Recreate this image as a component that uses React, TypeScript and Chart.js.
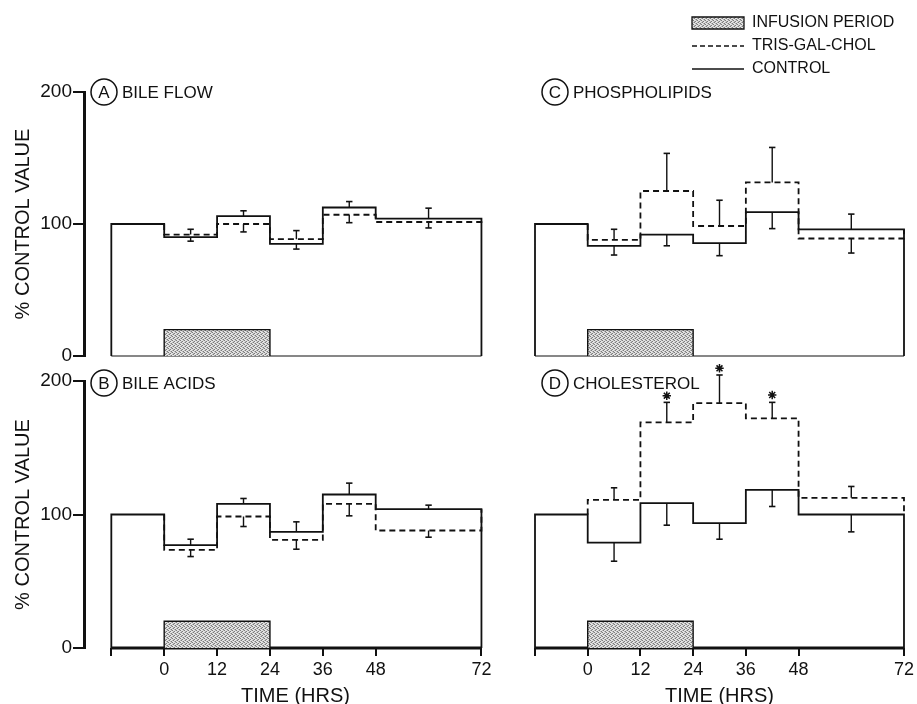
import React, { useEffect, useRef } from 'react';
import { Chart, registerables } from 'chart.js';

Chart.register(...registerables);

// ---------------- data ----------------
const PRE_START = -12;
const PERIOD_START = [0, 12, 24, 36, 48];
const PERIOD_END = [12, 24, 36, 48, 72];
const PERIOD_MID = [6, 18, 30, 42, 60];
const BASELINE_VALUE = 100;
const X_TICKS = [-12, 0, 12, 24, 36, 48, 72];
const Y_TICKS = [0, 100, 200];
const INFUSION_START = 0;
const INFUSION_END = 24;
const INFUSION_LEVEL = 20;

// A  bile flow
const A_CONTROL = [90, 106, 85, 112.5, 104];
const A_TREATED = [92, 100, 88.5, 107, 101.5];
const A_CONTROL_TIP = [87, 110, 81, 117, 112];
const A_TREATED_TIP = [96, 94, 95, 101, 97];

// B  bile acids
const B_CONTROL = [77, 108, 87, 115, 104];
const B_TREATED = [73.5, 98.5, 81, 108, 88];
const B_CONTROL_TIP = [81.5, 112, 94.5, 123.5, 107];
const B_TREATED_TIP = [68.5, 91, 74, 99, 83];

// C  phospholipids
const C_CONTROL = [83.5, 92, 85.5, 109, 96];
const C_TREATED = [88, 125, 98.5, 131.5, 89];
const C_CONTROL_TIP = [76.5, 83.5, 76, 96.5, 107.5];
const C_TREATED_TIP = [96, 153.5, 118, 158, 78];

// D  cholesterol
const D_CONTROL = [79, 108.5, 93.5, 118.5, 100];
const D_TREATED = [111, 169, 183.5, 172, 112.5];
const D_CONTROL_TIP = [65, 92, 81.5, 106, 87];
const D_TREATED_TIP = [120, 184, 204.5, 184, 121];
const D_SIG_X = [18, 30, 42];
const D_SIG_Y = [189, 209.5, 189.5];

const LEGEND_LABELS = ['INFUSION PERIOD', 'TRIS-GAL-CHOL', 'CONTROL'];

// ---------------- styling ----------------
const INK = '#111111';
const FONT = '"Liberation Sans", Arial, sans-serif';
Chart.defaults.font.family = FONT;
Chart.defaults.color = INK;

type Panel = {
  letter: string;
  name: string;
  ctrl: number[];
  trt: number[];
  ctrlTip: number[];
  trtTip: number[];
  sigX?: number[];
  sigY?: number[];
  col: number;
  row: number;
};

const PANELS: Panel[] = [
  { letter: 'A', name: 'BILE FLOW', ctrl: A_CONTROL, trt: A_TREATED, ctrlTip: A_CONTROL_TIP, trtTip: A_TREATED_TIP, col: 0, row: 0 },
  { letter: 'B', name: 'BILE ACIDS', ctrl: B_CONTROL, trt: B_TREATED, ctrlTip: B_CONTROL_TIP, trtTip: B_TREATED_TIP, col: 0, row: 1 },
  { letter: 'C', name: 'PHOSPHOLIPIDS', ctrl: C_CONTROL, trt: C_TREATED, ctrlTip: C_CONTROL_TIP, trtTip: C_TREATED_TIP, col: 1, row: 0 },
  { letter: 'D', name: 'CHOLESTEROL', ctrl: D_CONTROL, trt: D_TREATED, ctrlTip: D_CONTROL_TIP, trtTip: D_TREATED_TIP, sigX: D_SIG_X, sigY: D_SIG_Y, col: 1, row: 1 },
];

// canvas geometry (px): [col][row]
const GEOM: any[][] = [
  [
    { left: 0, top: 0, width: 520, height: 370, padL: 11, padR: 13, padT: 92, padB: 14, yAxisW: 73, xAxisH: 0, xMin: -18.2, xMax: 77.8, yMax: 200 },
    { left: 0, top: 350, width: 520, height: 356, padL: 11, padR: 13, padT: 31, padB: 0, yAxisW: 73, xAxisH: 58, xMin: -18.2, xMax: 77.8, yMax: 200 },
  ],
  [
    { left: 490, top: 0, width: 427, height: 370, padL: 45, padR: 13, padT: 52.4, padB: 14, yAxisW: 0, xAxisH: 0, xMin: -12, xMax: 72, yMax: 230 },
    { left: 490, top: 300, width: 427, height: 406, padL: 45, padR: 13, padT: 40.95, padB: 0, yAxisW: 0, xAxisH: 58, xMin: -12, xMax: 72, yMax: 230 },
  ],
];
const LEGEND_GEOM = { left: 685, top: 8, width: 232, height: 200 };

const X_END = PERIOD_END[PERIOD_END.length - 1];

function stepPath(values: number[]) {
  const pts: { x: number; y: number }[] = [];
  values.forEach((v, i) => {
    pts.push({ x: PERIOD_START[i], y: v }, { x: PERIOD_END[i], y: v });
  });
  return pts;
}

function controlPath(values: number[]) {
  return [
    { x: PRE_START, y: 0 },
    { x: PRE_START, y: BASELINE_VALUE },
    { x: PERIOD_START[0], y: BASELINE_VALUE },
    ...stepPath(values),
    { x: X_END, y: 0 },
  ];
}

function treatedPath(values: number[], ctrl: number[]) {
  return [
    { x: PERIOD_START[0], y: BASELINE_VALUE },
    ...stepPath(values),
    { x: X_END, y: ctrl[ctrl.length - 1] },
  ];
}

function barPath(means: number[], tips: number[]) {
  const pts: { x: number; y: number | null }[] = [];
  means.forEach((m, i) => {
    pts.push({ x: PERIOD_MID[i], y: m }, { x: PERIOD_MID[i], y: tips[i] }, { x: PERIOD_MID[i], y: null });
  });
  return pts;
}

function makePattern(): CanvasPattern | string {
  const c = document.createElement('canvas');
  c.width = 4;
  c.height = 4;
  const g = c.getContext('2d');
  if (!g) return '#bbb';
  g.fillStyle = '#e4e4e4';
  g.fillRect(0, 0, 4, 4);
  g.fillStyle = '#7c7c7c';
  [[0, 0], [2, 1], [1, 2], [3, 3]].forEach(([x, y]) => g.fillRect(x, y, 1, 1));
  g.fillStyle = '#b4b4b4';
  [[2, 3], [0, 2], [3, 0], [1, 1]].forEach(([x, y]) => g.fillRect(x, y, 1, 1));
  const p = g.createPattern(c, 'repeat');
  return p || '#bbb';
}

const panelLabelPlugin = {
  id: 'panelLabel',
  afterDatasetsDraw(chart: any, _args: any, opts: any) {
    if (!opts || !opts.letter) return;
    const { ctx, chartArea } = chart;
    const y = chart.scales.y.getPixelForValue(200) + (opts.dy || 0);
    const cx = chartArea.left + 20;
    ctx.save();
    ctx.strokeStyle = INK;
    ctx.lineWidth = 1.5;
    ctx.beginPath();
    ctx.arc(cx, y, 13, 0, Math.PI * 2);
    ctx.stroke();
    ctx.fillStyle = INK;
    ctx.font = `17px ${FONT}`;
    ctx.textBaseline = 'middle';
    ctx.textAlign = 'center';
    ctx.fillText(opts.letter, cx, y + 1);
    ctx.textAlign = 'left';
    ctx.fillText(opts.text, chartArea.left + 38, y + 1);
    ctx.restore();
  },
};

function panelConfig(p: Panel, pattern: any): any {
  const g = GEOM[p.col][p.row];
  const isLeft = p.col === 0;
  const isBottom = p.row === 1;
  const tipRadius = (ctx: any) => (ctx.dataIndex % 3 === 1 ? 3.2 : 0);
  const datasets: any[] = [
    {
      label: LEGEND_LABELS[0],
      data: [
        { x: INFUSION_START, y: 0 },
        { x: INFUSION_START, y: INFUSION_LEVEL },
        { x: INFUSION_END, y: INFUSION_LEVEL },
        { x: INFUSION_END, y: 0 },
      ],
      fill: 'origin',
      backgroundColor: pattern,
      borderColor: INK,
      borderWidth: 1.4,
      clip: false,
    },
    {
      label: 'baseline',
      data: [{ x: PRE_START, y: 0 }, { x: X_END, y: 0 }],
      borderColor: INK,
      borderWidth: isBottom ? 3 : 1.2,
      clip: false,
    },
    {
      label: LEGEND_LABELS[2],
      data: controlPath(p.ctrl),
      borderColor: INK,
      borderWidth: 1.8,
      clip: false,
    },
    {
      label: LEGEND_LABELS[1],
      data: treatedPath(p.trt, p.ctrl),
      borderColor: INK,
      borderWidth: 1.8,
      borderDash: [6, 4],
      clip: false,
    },
    {
      label: 'control SEM',
      data: barPath(p.ctrl, p.ctrlTip),
      borderColor: INK,
      borderWidth: 1.4,
      spanGaps: false,
      pointStyle: 'line',
      pointRadius: tipRadius,
      pointBorderWidth: 1.6,
      pointBorderColor: INK,
      clip: false,
    },
    {
      label: 'treated SEM',
      data: barPath(p.trt, p.trtTip),
      borderColor: INK,
      borderWidth: 1.4,
      spanGaps: false,
      pointStyle: 'line',
      pointRadius: tipRadius,
      pointBorderWidth: 1.6,
      pointBorderColor: INK,
      clip: false,
    },
  ];
  if (p.sigX && p.sigY) {
    datasets.push({
      label: 'significant',
      data: p.sigX.map((x, i) => ({ x, y: p.sigY![i] })),
      showLine: false,
      pointStyle: 'star',
      pointRadius: 4.2,
      pointBorderWidth: 1.5,
      pointBorderColor: INK,
      clip: false,
    });
  }
  return {
    type: 'line',
    data: { datasets },
    plugins: [panelLabelPlugin],
    options: {
      responsive: false,
      animation: false,
      events: [],
      layout: { padding: { left: g.padL, right: g.padR, top: g.padT, bottom: g.padB } },
      elements: {
        line: { tension: 0, fill: false },
        point: { radius: 0, hoverRadius: 0 },
      },
      plugins: {
        legend: { display: false },
        tooltip: { enabled: false },
        panelLabel: { letter: p.letter, text: p.name, dy: isBottom ? 2 : 0 },
      },
      scales: {
        x: {
          type: 'linear',
          min: g.xMin,
          max: g.xMax,
          display: isBottom,
          afterBuildTicks: (axis: any) => {
            axis.ticks = X_TICKS.map((v) => ({ value: v }));
          },
          afterFit: (axis: any) => {
            axis.height = g.xAxisH;
          },
          grid: { drawOnChartArea: false, drawTicks: true, tickLength: 8, color: INK, lineWidth: 2 },
          border: { display: false },
          ticks: {
            callback: (v: any) => (v === PRE_START ? '' : String(v)),
            font: { size: 18 },
            color: INK,
            padding: 3,
            maxRotation: 0,
            autoSkip: false,
          },
          title: { display: true, text: 'TIME (HRS)', font: { size: 20, lineHeight: 1 }, color: INK, padding: 0 },
        },
        y: {
          type: 'linear',
          min: 0,
          max: g.yMax,
          display: isLeft,
          afterBuildTicks: (axis: any) => {
            axis.ticks = Y_TICKS.map((v) => ({ value: v }));
          },
          afterFit: (axis: any) => {
            axis.width = g.yAxisW;
          },
          grid: { drawOnChartArea: false, drawTicks: true, tickLength: 11, color: INK, lineWidth: 2 },
          border: { display: true, color: INK, width: 3 },
          ticks: { font: { size: 19 }, color: INK, padding: 1 },
          title: { display: true, text: '% CONTROL VALUE', font: { size: 20, lineHeight: 1.2 }, color: INK, padding: 0 },
        },
      },
    },
  };
}

function legendConfig(pattern: any): any {
  const datasets = [
    { label: LEGEND_LABELS[0], data: [], backgroundColor: pattern, borderColor: INK, borderWidth: 1.3, pointStyle: 'rect' },
    { label: LEGEND_LABELS[1], data: [], backgroundColor: 'rgba(0,0,0,0)', borderColor: INK, borderWidth: 1.5, borderDash: [5, 3], pointStyle: 'line' },
    { label: LEGEND_LABELS[2], data: [], backgroundColor: 'rgba(0,0,0,0)', borderColor: INK, borderWidth: 1.5, pointStyle: 'line' },
  ];
  return {
    type: 'line',
    data: { datasets },
    options: {
      responsive: false,
      animation: false,
      events: [],
      layout: { padding: 0 },
      scales: { x: { type: 'linear', display: false, min: 0, max: 1 }, y: { display: false, min: 0, max: 1 } },
      plugins: {
        tooltip: { enabled: false },
        legend: {
          display: true,
          position: 'top',
          align: 'start',
          labels: {
            usePointStyle: true,
            pointStyleWidth: 52,
            boxHeight: 12,
            padding: 7,
            color: INK,
            font: { size: 16 },
            generateLabels: (chart: any) =>
              chart.data.datasets.map((ds: any, i: number) => ({
                text: ds.label,
                fillStyle: ds.backgroundColor,
                strokeStyle: ds.borderColor,
                lineWidth: ds.borderWidth,
                lineDash: ds.borderDash || [],
                pointStyle: ds.pointStyle,
                fontColor: INK,
                hidden: false,
                datasetIndex: i,
              })),
          },
        },
      },
    },
  };
}

export default function App() {
  const refs = useRef<(HTMLCanvasElement | null)[]>([]);

  useEffect(() => {
    const pattern = makePattern();
    const charts: Chart[] = [];
    PANELS.forEach((p, i) => {
      const el = refs.current[i];
      if (el) charts.push(new Chart(el, panelConfig(p, pattern)));
    });
    const lg = refs.current[PANELS.length];
    if (lg) charts.push(new Chart(lg, legendConfig(pattern)));
    return () => charts.forEach((c) => c.destroy());
  }, []);

  return (
    <div
      style={{
        position: 'fixed',
        left: 0,
        top: 0,
        width: 917,
        height: 704,
        overflow: 'hidden',
        background: '#ffffff',
      }}
    >
      {PANELS.map((p, i) => {
        const g = GEOM[p.col][p.row];
        return (
          <canvas
            key={p.letter}
            ref={(el) => {
              refs.current[i] = el;
            }}
            width={g.width}
            height={g.height}
            style={{ position: 'absolute', left: g.left, top: g.top, width: g.width, height: g.height }}
          />
        );
      })}
      <canvas
        ref={(el) => {
          refs.current[PANELS.length] = el;
        }}
        width={LEGEND_GEOM.width}
        height={LEGEND_GEOM.height}
        style={{
          position: 'absolute',
          left: LEGEND_GEOM.left,
          top: LEGEND_GEOM.top,
          width: LEGEND_GEOM.width,
          height: LEGEND_GEOM.height,
        }}
      />
    </div>
  );
}
